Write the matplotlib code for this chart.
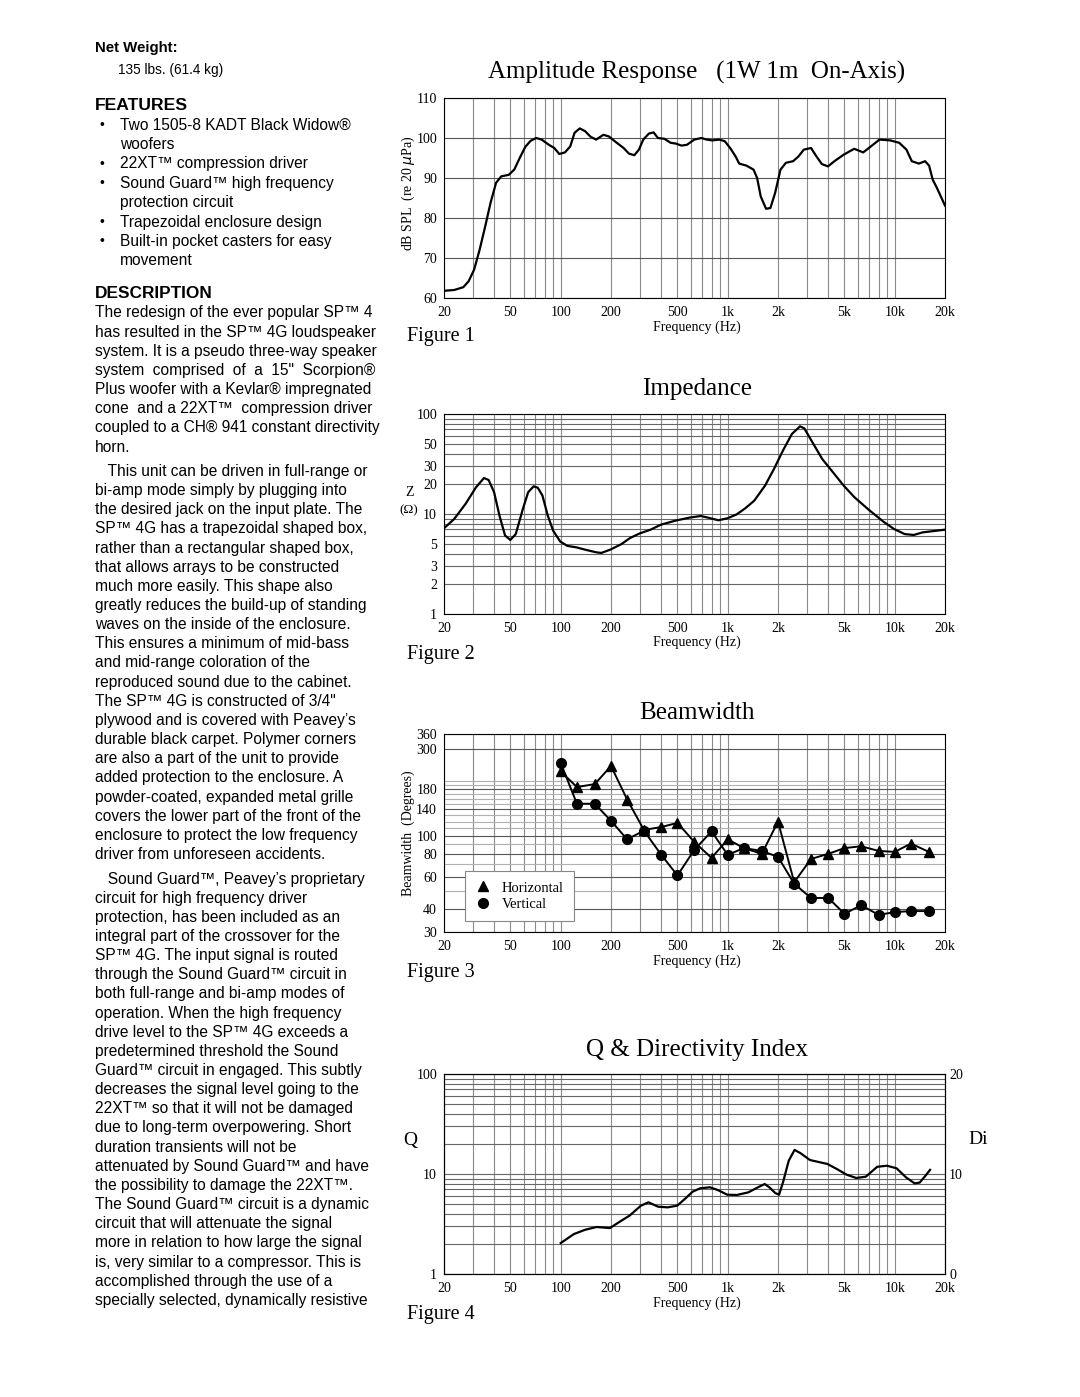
"""
Fiche technique SP 4G : texte à gauche, quatre courbes (réponse, impédance, directivité, Q/Di).
"""

import matplotlib
matplotlib.use("Agg")
import matplotlib.pyplot as plt
from matplotlib.lines import Line2D
from matplotlib.ticker import FixedLocator, NullFormatter

W, H = 1080, 1397
SERIF = "Liberation Serif"
SANS = "Liberation Sans"
BODY = 11.2

# --- Données ---
amp_freq = [20, 23, 26.1, 28.1, 30.3, 32.7, 35.3, 38, 41, 44, 48.9, 52.7, 56.8, 61.4,
            66, 71.3, 76.9, 84.9, 91.5, 98, 106, 114, 121, 130, 140, 151, 163, 180,
            194, 215, 238, 256, 276, 294, 312, 337, 360, 382, 418, 455, 490, 528,
            570, 630, 695, 748, 806, 890, 960, 1034, 1114, 1171, 1293, 1427, 1500,
            1576, 1697, 1801, 1923, 2070, 2230, 2463, 2653, 2857, 3155, 3398, 3659,
            3982, 4355, 4933, 5721, 6474, 7151, 8101, 9400, 10640, 11750, 12650,
            13960, 15200, 16060, 16880, 17900, 20000]
amp_db = [61.8, 62.0, 62.7, 64.2, 67.1, 72.1, 77.9, 83.8, 88.8, 90.4, 90.8, 92.1, 95.0, 97.8,
          99.3, 100.0, 99.6, 98.3, 97.5, 96.0, 96.4, 97.9, 101.3, 102.4, 101.7, 100.3, 99.6, 100.8,
          100.4, 98.9, 97.5, 96.1, 95.7, 97.1, 99.6, 101.1, 101.4, 100.0, 99.8, 98.8, 98.6, 98.1,
          98.3, 99.6, 100.0, 99.6, 99.4, 99.6, 99.2, 97.5, 95.4, 93.6, 93.1, 92.1, 90.0,
          85.4, 82.3, 82.5, 86.3, 92.1, 93.8, 94.2, 95.4, 97.1, 97.5, 95.4, 93.5,
          92.9, 94.2, 95.8, 97.3, 96.4, 97.8, 99.6, 99.4, 98.8, 97.1, 94.2,
          93.6, 94.2, 93.1, 89.6, 87.5, 83.1]

imp_freq = [20, 23, 26.9, 31.1, 34.7, 37, 39.9, 43, 46.4, 49.9, 53.8, 59.3, 63.8, 68.8,
            72.9, 77.7, 83.7, 90.1, 99.4, 109.5, 124, 140, 163, 175, 198, 231, 260, 298,
            345, 398, 485, 590, 690, 760, 880, 996, 1130, 1273, 1442, 1672, 1892, 2140,
            2420, 2710, 2875, 3175, 3680, 4270, 4950, 5740, 7000, 8540, 9900, 11470,
            13000, 14700, 20000]
imp_ohm = [7.2, 8.9, 12.6, 18.5, 22.9, 21.9, 16.5, 9.6, 6.1, 5.5, 6.3, 11.2, 16.5, 18.9,
           18.3, 15.3, 9.6, 6.8, 5.3, 4.8, 4.64, 4.4, 4.14, 4.08, 4.4, 5.0, 5.75, 6.41,
           6.97, 7.82, 8.57, 9.2, 9.55, 9.2, 8.66, 9.06, 9.9, 11.4, 13.6, 19.2, 28.2, 43,
           63, 75.3, 71.8, 54, 35.5, 26.1, 19.2, 14.7, 11.0, 8.4, 7.08, 6.3,
           6.17, 6.55, 6.97]

bw_freq = [100, 125, 160, 200, 250, 315, 400, 500, 630, 800, 1000, 1250, 1600, 2000,
           2500, 3150, 4000, 5000, 6300, 8000, 10000, 12500, 16000]
bw_horizontal = [225, 185, 192, 241, 158, 108, 112, 118, 93, 76, 96, 86, 80, 120,
                 56, 75, 80, 86, 88, 83, 82, 91, 82]
bw_vertical = [250, 150, 150, 121, 96, 107, 79, 61, 84, 106, 79, 86, 83, 77,
               55, 46, 46, 37.7, 42, 37.2, 38.5, 39, 39]

q_freq = [100, 120, 140, 164, 197, 226, 258, 302, 335, 383, 437, 498, 553, 617, 685,
          783, 871, 993, 1134, 1328, 1516, 1665, 1776, 1926, 2030, 2143, 2320, 2513,
          2720, 3107, 3950, 4510, 5150, 5880, 6710, 7850, 8980, 10260, 11710, 13160,
          14100, 15270, 16280]
q_value = [2.04, 2.51, 2.77, 2.95, 2.88, 3.34, 3.83, 4.82, 5.21, 4.71, 4.64, 4.82, 5.62, 6.66, 7.2,
           7.36, 6.92, 6.21, 6.17, 6.55, 7.36, 7.94, 7.36, 6.45, 6.21, 8.26, 13.6, 17.4,
           16.2, 13.8, 12.6, 11.2, 9.85, 9.12, 9.4, 11.8, 12.1, 11.4, 9.23, 8.06,
           8.2, 9.6, 11.0]

freq_ticks = [20, 50, 100, 200, 500, 1000, 2000, 5000, 10000, 20000]
freq_labels = ["20", "50", "100", "200", "500", "1k", "2k", "5k", "10k", "20k"]
freq_minor = [m * d for d in (10, 100, 1000, 10000) for m in range(1, 10)
              if 20 <= m * d <= 20000]
log_minor = [2, 3, 4, 5, 6, 7, 8, 9, 20, 30, 40, 50, 60, 70, 80, 90]
bw_ticks = [30, 40, 60, 80, 100, 140, 180, 300, 360]
bw_minor = [50, 70, 90, 110, 120, 130, 150, 160, 170, 190, 200]

# --- Texte de la colonne de gauche ---
features = [
    ["Two 1505-8 KADT Black Widow®", "woofers"],
    ["22XT™ compression driver"],
    ["Sound Guard™ high frequency", "protection circuit"],
    ["Trapezoidal enclosure design"],
    ["Built-in pocket casters for easy", "movement"],
]
para1 = [
    "The redesign of the ever popular SP™ 4",
    "has resulted in the SP™ 4G loudspeaker",
    "system. It is a pseudo three-way speaker",
    "system  comprised  of  a  15\"  Scorpion®",
    "Plus woofer with a Kevlar® impregnated",
    "cone  and a 22XT™  compression driver",
    "coupled to a CH® 941 constant directivity",
    "horn.",
]
para2 = [
    "   This unit can be driven in full-range or",
    "bi-amp mode simply by plugging into",
    "the desired jack on the input plate. The",
    "SP™ 4G has a trapezoidal shaped box,",
    "rather than a rectangular shaped box,",
    "that allows arrays to be constructed",
    "much more easily. This shape also",
    "greatly reduces the build-up of standing",
    "waves on the inside of the enclosure.",
    "This ensures a minimum of mid-bass",
    "and mid-range coloration of the",
    "reproduced sound due to the cabinet.",
    "The SP™ 4G is constructed of 3/4\"",
    "plywood and is covered with Peavey’s",
    "durable black carpet. Polymer corners",
    "are also a part of the unit to provide",
    "added protection to the enclosure. A",
    "powder-coated, expanded metal grille",
    "covers the lower part of the front of the",
    "enclosure to protect the low frequency",
    "driver from unforeseen accidents.",
]
para3 = [
    "   Sound Guard™, Peavey’s proprietary",
    "circuit for high frequency driver",
    "protection, has been included as an",
    "integral part of the crossover for the",
    "SP™ 4G. The input signal is routed",
    "through the Sound Guard™ circuit in",
    "both full-range and bi-amp modes of",
    "operation. When the high frequency",
    "drive level to the SP™ 4G exceeds a",
    "predetermined threshold the Sound",
    "Guard™ circuit in engaged. This subtly",
    "decreases the signal level going to the",
    "22XT™ so that it will not be damaged",
    "due to long-term overpowering. Short",
    "duration transients will not be",
    "attenuated by Sound Guard™ and have",
    "the possibility to damage the 22XT™.",
    "The Sound Guard™ circuit is a dynamic",
    "circuit that will attenuate the signal",
    "more in relation to how large the signal",
    "is, very similar to a compressor. This is",
    "accomplished through the use of a",
    "specially selected, dynamically resistive",
]


def fx(x):
    return x / W


def fy(y):
    return 1 - y / H


def txt(fig, x, y, s, **kw):
    kw.setdefault("family", SANS)
    kw.setdefault("va", "center")
    fig.text(fx(x), fy(y), s, **kw)


def make_axes(fig, top, bottom, left=444, right=945):
    return fig.add_axes([fx(left), fy(bottom), (right - left) / W, (bottom - top) / H])


def habille_freq(ax, fig, y_freq_label, fig_label, y_fig_label):
    """Axe X log 20 Hz - 20 kHz, grille verticale, étiquettes."""
    ax.set_xscale("log")
    ax.set_xlim(20, 20000)
    ax.xaxis.set_major_locator(FixedLocator(freq_ticks))
    ax.set_xticklabels(freq_labels)
    ax.xaxis.set_minor_locator(FixedLocator(freq_minor))
    ax.xaxis.set_minor_formatter(NullFormatter())
    ax.tick_params(axis="both", which="both", length=0, labelsize=10)
    ax.tick_params(axis="x", pad=6)
    ax.tick_params(axis="y", pad=5)
    for lab in ax.get_xticklabels() + ax.get_yticklabels():
        lab.set_family(SERIF)
    ax.grid(True, axis="x", which="both", color="#8a8a8a", lw=0.8)
    for sp in ax.spines.values():
        sp.set_linewidth(0.8)
    ax.set_axisbelow(True)
    fig.text(fx(697), fy(y_freq_label), "Frequency (Hz)", family=SERIF, fontsize=10,
             ha="center", va="center")
    fig.text(fx(407), fy(y_fig_label), fig_label, family=SERIF, fontsize=14.5,
             ha="left", va="center")


fig = plt.figure(figsize=(W / 100, H / 100), dpi=100)

# 1) Colonne de texte
txt(fig, 95, 48, "Net Weight:", fontsize=10.8, weight="bold")
txt(fig, 118, 70, "135 lbs. (61.4 kg)", fontsize=9.8)
txt(fig, 95, 105, "FEATURES", fontsize=12.6, weight="bold")
y = 125
for item in features:
    txt(fig, 99, y, "•", fontsize=10)
    for line in item:
        txt(fig, 120, y, line, fontsize=BODY)
        y += 19.4
txt(fig, 95, 294, "DESCRIPTION", fontsize=12.4, weight="bold")
for start, lines in ((313, para1), (471.5, para2), (879, para3)):
    for i, line in enumerate(lines):
        txt(fig, 95, start + i * 19.15, line, fontsize=BODY)

# 2) Réponse en amplitude
ax1 = make_axes(fig, 98, 298)
ax1.plot(amp_freq, amp_db, color="black", lw=1.6)
ax1.set_ylim(60, 110)
ax1.set_yticks([60, 70, 80, 90, 100, 110])
ax1.grid(True, axis="y", which="major", color="#555555", lw=0.8)
habille_freq(ax1, fig, 327, "Figure 1", 337)
fig.text(fx(697), fy(72), "Amplitude Response   (1W 1m  On-Axis)", family=SERIF,
         fontsize=18, ha="center", va="center")
fig.text(fx(408), fy(193), "dB SPL  (re 20 $\\mu$Pa)", family=SERIF, fontsize=10,
         rotation=90, ha="center", va="center")

# 3) Impédance
ax2 = make_axes(fig, 414, 614)
ax2.plot(imp_freq, imp_ohm, color="black", lw=1.6)
ax2.set_yscale("log")
ax2.set_ylim(1, 100)
ax2.yaxis.set_major_locator(FixedLocator([1, 2, 3, 5, 10, 20, 30, 50, 100]))
ax2.set_yticklabels(["1", "2", "3", "5", "10", "20", "30", "50", "100"])
ax2.yaxis.set_minor_locator(FixedLocator(log_minor))
ax2.yaxis.set_minor_formatter(NullFormatter())
ax2.grid(True, axis="y", which="both", color="#666666", lw=0.8)
habille_freq(ax2, fig, 642, "Figure 2", 654)
fig.text(fx(697), fy(389), "Impedance", family=SERIF, fontsize=18, ha="center", va="center")
fig.text(fx(410), fy(493), "Z", family=SERIF, fontsize=10, ha="center", va="center")
fig.text(fx(409), fy(510), "(Ω)", family=SERIF, fontsize=9.5, ha="center", va="center")

# 4) Directivité
ax3 = make_axes(fig, 734, 932)
ax3.plot(bw_freq, bw_horizontal, color="black", lw=1.4, marker="^", ms=7)
ax3.plot(bw_freq, bw_vertical, color="black", lw=1.4, marker="o", ms=7)
ax3.set_yscale("log")
ax3.set_ylim(30, 360)
ax3.yaxis.set_major_locator(FixedLocator(bw_ticks))
ax3.set_yticklabels([str(v) for v in bw_ticks])
ax3.yaxis.set_minor_locator(FixedLocator(bw_minor))
ax3.yaxis.set_minor_formatter(NullFormatter())
ax3.grid(True, axis="y", which="major", color="#555555", lw=0.8)
ax3.grid(True, axis="y", which="minor", color="#b0b0b0", lw=0.8)
habille_freq(ax3, fig, 961, "Figure 3", 972)
handles = [Line2D([], [], color="black", marker="^", ls="none", ms=7),
           Line2D([], [], color="black", marker="o", ls="none", ms=7)]
leg = ax3.legend(handles, ["Horizontal", "Vertical"], loc="lower left",
                 bbox_to_anchor=(0.042, 0.056), fancybox=False, framealpha=1,
                 edgecolor="#888888", prop={"family": SERIF, "size": 10.5},
                 handlelength=1.0, borderpad=0.7, labelspacing=0.2, handletextpad=0.8,
                 borderaxespad=0)
leg.get_frame().set_linewidth(0.8)
fig.text(fx(697), fy(713), "Beamwidth", family=SERIF, fontsize=18, ha="center", va="center")
fig.text(fx(408), fy(833), "Beamwidth  (Degrees)", family=SERIF, fontsize=10,
         rotation=90, ha="center", va="center")

# 5) Q et indice de directivité
ax4 = make_axes(fig, 1074, 1274)
ax4.plot(q_freq, q_value, color="black", lw=1.6)
ax4.set_yscale("log")
ax4.set_ylim(1, 100)
ax4.yaxis.set_major_locator(FixedLocator([1, 10, 100]))
ax4.set_yticklabels(["1", "10", "100"])
ax4.yaxis.set_minor_locator(FixedLocator(log_minor))
ax4.yaxis.set_minor_formatter(NullFormatter())
ax4.grid(True, axis="y", which="both", color="#666666", lw=0.8)
habille_freq(ax4, fig, 1303, "Figure 4", 1314)
di = ax4.twinx()
di.set_ylim(0, 20)
di.set_yticks([0, 10, 20])
di.tick_params(length=0, labelsize=10, pad=3)
for lab in di.get_yticklabels():
    lab.set_family(SERIF)
fig.text(fx(697), fy(1050), "Q & Directivity Index", family=SERIF, fontsize=18,
         ha="center", va="center")
fig.text(fx(410), fy(1140), "Q", family=SERIF, fontsize=14, ha="center", va="center")
fig.text(fx(978), fy(1140), "Di", family=SERIF, fontsize=14, ha="center", va="center")

fig.savefig("out.png", dpi=100, facecolor="white")
